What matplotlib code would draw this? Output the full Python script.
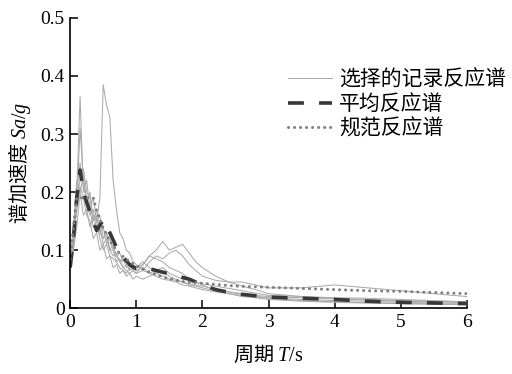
import numpy as np
import matplotlib
matplotlib.use("Agg")
from matplotlib import pyplot as plt

plt.rcParams['font.family'] = 'serif'
plt.rcParams['font.serif'] = ['Liberation Serif', 'DejaVu Serif']
plt.rcParams['mathtext.fontset'] = 'custom'
plt.rcParams['mathtext.rm'] = 'Liberation Serif'
plt.rcParams['mathtext.it'] = 'Liberation Serif:italic'

# 周期点（选择的记录）
T_rec = [0.0, 0.05, 0.1, 0.15, 0.2, 0.25, 0.3, 0.35, 0.4, 0.45, 0.5, 0.55, 0.6, 0.65, 0.7,
         0.75, 0.8, 0.85, 0.9, 0.95, 1.0,
         1.1, 1.2, 1.3, 1.4, 1.5, 1.6, 1.7, 1.8, 1.9, 2.0,
         2.2, 2.4, 2.6, 2.8, 3.0,
         3.5, 4.0, 4.5, 5.0, 5.5, 6.0]

rec1 = [0.07, 0.12, 0.2, 0.365, 0.2, 0.22, 0.17, 0.19, 0.15, 0.16, 0.12, 0.13, 0.1, 0.11, 0.09,
        0.095, 0.08, 0.085, 0.07, 0.075, 0.07,
        0.08, 0.07, 0.06, 0.065, 0.055, 0.05, 0.045, 0.04, 0.038, 0.035,
        0.03, 0.028, 0.025, 0.022, 0.02,
        0.018, 0.016, 0.014, 0.012, 0.011, 0.01]
rec2 = [0.08, 0.1, 0.14, 0.2, 0.16, 0.17, 0.14, 0.16, 0.15, 0.19, 0.385, 0.35, 0.33, 0.22, 0.17,
        0.13, 0.12, 0.1, 0.095, 0.08, 0.075,
        0.065, 0.06, 0.055, 0.05, 0.048, 0.045, 0.04, 0.038, 0.035, 0.032,
        0.028, 0.025, 0.022, 0.02, 0.018,
        0.015, 0.013, 0.012, 0.01, 0.009, 0.008]
rec3 = [0.065, 0.1, 0.18, 0.31, 0.22, 0.18, 0.2, 0.15, 0.17, 0.13, 0.14, 0.11, 0.12, 0.1, 0.09,
        0.08, 0.085, 0.07, 0.075, 0.065, 0.07,
        0.075, 0.09, 0.085, 0.08, 0.07, 0.065, 0.06, 0.05, 0.045, 0.04,
        0.03, 0.025, 0.02, 0.018, 0.015,
        0.012, 0.01, 0.009, 0.008, 0.007, 0.006]
rec4 = [0.07, 0.13, 0.2, 0.25, 0.21, 0.19, 0.17, 0.14, 0.15, 0.12, 0.1, 0.11, 0.09, 0.085, 0.08,
        0.07, 0.065, 0.06, 0.07, 0.065, 0.06,
        0.075, 0.09, 0.1, 0.115, 0.1, 0.105, 0.11, 0.095, 0.08, 0.07,
        0.055, 0.045, 0.038, 0.032, 0.025,
        0.02, 0.017, 0.015, 0.013, 0.012, 0.01]
rec5 = [0.09, 0.14, 0.22, 0.2, 0.23, 0.18, 0.16, 0.17, 0.13, 0.14, 0.11, 0.12, 0.1, 0.1, 0.08,
        0.085, 0.07, 0.065, 0.06, 0.065, 0.06,
        0.065, 0.08, 0.09, 0.085, 0.095, 0.1, 0.09, 0.075, 0.065, 0.055,
        0.048, 0.045, 0.045, 0.04, 0.035,
        0.035, 0.04, 0.035, 0.03, 0.025, 0.02]
rec6 = [0.07, 0.12, 0.17, 0.21, 0.19, 0.16, 0.15, 0.12, 0.13, 0.1, 0.11, 0.085, 0.09, 0.07, 0.075,
        0.06, 0.065, 0.055, 0.06, 0.05, 0.055,
        0.05, 0.055, 0.06, 0.055, 0.05, 0.048, 0.045, 0.042, 0.04, 0.038,
        0.033, 0.028, 0.024, 0.02, 0.017,
        0.013, 0.011, 0.009, 0.008, 0.007, 0.006]
rec7 = [0.08, 0.11, 0.19, 0.22, 0.24, 0.2, 0.19, 0.15, 0.16, 0.13, 0.12, 0.13, 0.1, 0.09, 0.095,
        0.08, 0.07, 0.075, 0.065, 0.07, 0.065,
        0.07, 0.06, 0.065, 0.07, 0.06, 0.055, 0.05, 0.048, 0.045, 0.042,
        0.038, 0.034, 0.03, 0.026, 0.022,
        0.02, 0.018, 0.017, 0.015, 0.013, 0.011]
records = [rec1, rec2, rec3, rec4, rec5, rec6, rec7]

# 平均反应谱
T_mean = [0, 0.05, 0.1, 0.15, 0.2, 0.3, 0.4, 0.5, 0.6, 0.7, 0.8, 0.9, 1.0, 1.1, 1.2, 1.4, 1.6,
          1.8, 2.0, 2.2, 2.5, 3.0, 3.5, 4.0, 4.5, 5.0, 5.5, 6.0]
sa_mean = [0.07, 0.12, 0.19, 0.238, 0.2, 0.165, 0.134, 0.152, 0.13, 0.105, 0.088, 0.075, 0.068,
           0.069, 0.068, 0.062, 0.056, 0.05, 0.04, 0.032, 0.025, 0.019, 0.017, 0.015, 0.012,
           0.01, 0.009, 0.008]

# 规范反应谱
T_code = [0, 0.05, 0.1, 0.35, 0.4, 0.5, 0.6, 0.7, 0.8, 0.9, 1.0, 1.2, 1.4, 1.6, 1.75, 2.0,
          2.5, 3.0, 3.5, 4.0, 4.5, 5.0, 5.5, 6.0]
sa_code = [0.085, 0.14, 0.19, 0.19, 0.168, 0.138, 0.116, 0.1, 0.089, 0.08, 0.073, 0.062, 0.054,
           0.048, 0.045, 0.043, 0.038, 0.036, 0.034, 0.032, 0.03, 0.029, 0.027, 0.025]

fig = plt.figure(figsize=(5.12, 3.74), dpi=100)
ax = fig.add_axes([0.137, 0.176, 0.775, 0.776])

for i, rec in enumerate(records):
    ax.plot(T_rec, rec, color='#ababab', lw=0.75,
            label='选择的记录反应谱' if i == 0 else None)
ax.plot(T_mean, sa_mean, color='#383838', lw=2.6, dashes=(4.4, 4.2), label='平均反应谱')
ax.plot(T_code, sa_code, color='#7f7f7f', lw=2.2, linestyle=(0, (0.01, 1.96)),
        dash_capstyle='round', label='规范反应谱')

ax.set_xlim(0, 6)
ax.set_ylim(0, 0.5)
ax.set_xticks([0, 1, 2, 3, 4, 5, 6])
ax.set_yticks([0, 0.1, 0.2, 0.3, 0.4, 0.5])
ax.set_yticklabels(['0', '0.1', '0.2', '0.3', '0.4', '0.5'])
ax.spines['top'].set_visible(False)
ax.spines['right'].set_visible(False)
for s in ['left', 'bottom']:
    ax.spines[s].set_linewidth(1.2)
ax.tick_params(direction='in', length=6, width=1.1, labelsize=14, pad=4)

cjk = ['Noto Sans CJK SC', 'Liberation Serif']
ax.set_xlabel(r'周期 $T/\mathrm{s}$', fontsize=14.5, family=cjk, labelpad=9)
ax.set_ylabel(r'谱加速度 $Sa/g$', fontsize=14.5, family=cjk, labelpad=5)

leg = ax.legend(loc='upper left', bbox_to_anchor=(0.563, 0.817), bbox_transform=fig.transFigure,
                frameon=False, prop={'family': cjk, 'size': 15}, handlelength=2.1,
                handletextpad=0.35, labelspacing=0.12, borderpad=0, borderaxespad=0)

fig.savefig('out.png', dpi=100)
